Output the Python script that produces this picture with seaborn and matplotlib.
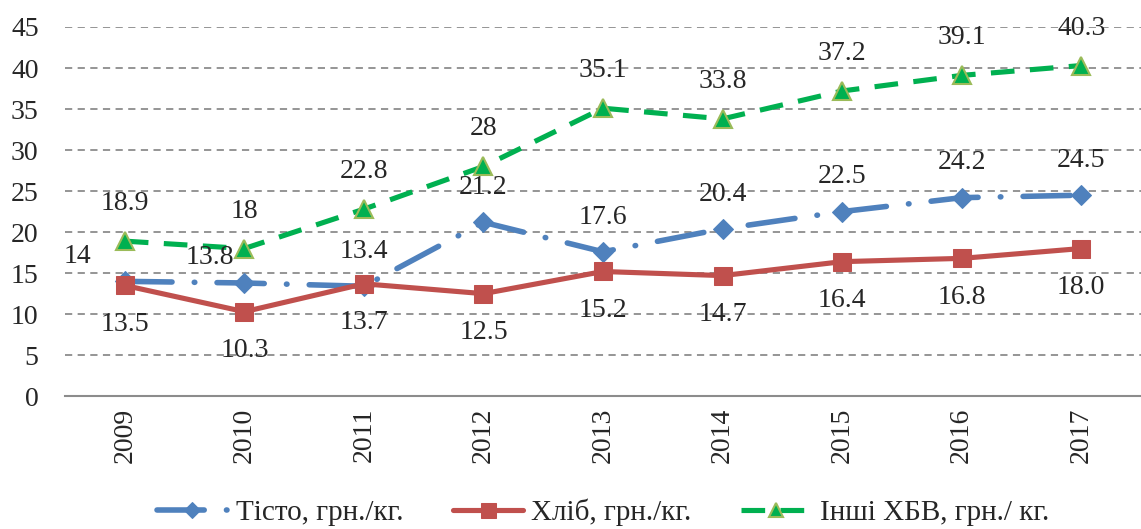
import matplotlib
matplotlib.use("Agg")
import matplotlib.pyplot as plt
import seaborn as sns

years = [2009, 2010, 2011, 2012, 2013, 2014, 2015, 2016, 2017]
tisto = [14, 13.8, 13.4, 21.2, 17.6, 20.4, 22.5, 24.2, 24.5]
khlib = [13.5, 10.3, 13.7, 12.5, 15.2, 14.7, 16.4, 16.8, 18.0]
inshi = [18.9, 18, 22.8, 28, 35.1, 33.8, 37.2, 39.1, 40.3]

tisto_lbl = ["14", "13.8", "13.4", "21.2", "17.6", "20.4", "22.5", "24.2", "24.5"]
khlib_lbl = ["13.5", "10.3", "13.7", "12.5", "15.2", "14.7", "16.4", "16.8", "18.0"]
inshi_lbl = ["18.9", "18", "22.8", "28", "35.1", "33.8", "37.2", "39.1", "40.3"]

names = ["Тісто, грн./кг.", "Хліб, грн./кг.", "Інші ХБВ, грн./ кг."]

sns.set_style("white")
plt.rcParams["font.family"] = ["Liberation Serif", "DejaVu Serif"]

fig = plt.figure(figsize=(11.41, 5.29), dpi=100)
ax = fig.add_axes([0.057, 0.251, 0.943, 0.698])

lw = 3.7
sns.lineplot(x=years, y=tisto, ax=ax, color="#4F81BD", lw=lw + 0.3, marker="D",
             markersize=10.5, markeredgecolor="#4F81BD", label=names[0])
ax.lines[-1].set_dashes((8.5, 4, 0.1, 4))
ax.lines[-1].set_dash_capstyle("round")
sns.lineplot(x=years, y=khlib, ax=ax, color="#C0504D", lw=lw, marker="s",
             markersize=13.5, markeredgecolor="#C0504D", label=names[1])
sns.lineplot(x=years, y=inshi, ax=ax, color="#00B050", lw=lw, marker="^",
             markersize=13, markeredgecolor="#9BBB59", markeredgewidth=1.5,
             label=names[2])
ax.lines[-1].set_dashes((4.6, 3))

fs = 20
for i, (x, y) in enumerate(zip(years, tisto)):
    if i == 0:
        off = (-34, 18)
    elif i == 1:
        off = (-25, 18)
    else:
        off = (0, 25)
    ax.annotate(tisto_lbl[i], (x, y), xytext=off, textcoords="offset points",
                ha="center", va="center", fontsize=fs)
for x, y, t in zip(years, khlib, khlib_lbl):
    ax.annotate(t, (x, y), xytext=(0, -28), textcoords="offset points",
                ha="center", va="center", fontsize=fs)
for x, y, t in zip(years, inshi, inshi_lbl):
    ax.annotate(t, (x, y), xytext=(0, 27), textcoords="offset points",
                ha="center", va="center", fontsize=fs)

ax.set_xlim(2008.5, 2017.5)
ax.set_ylim(0, 45)
ax.set_yticks(range(0, 46, 5))
ax.set_xticks(years)
ax.set_xticklabels([str(y) for y in years], rotation=90, fontsize=fs)
ax.tick_params(axis="y", labelsize=fs, length=0, pad=19)
ax.tick_params(axis="x", length=0, pad=8)
ax.yaxis.grid(True, color="#8C8C8C", linestyle=(0, (4, 3)), lw=1.3)
ax.xaxis.grid(False)
for s in ["top", "right", "left"]:
    ax.spines[s].set_visible(False)
ax.spines["bottom"].set_color("#8C8C8C")
ax.spines["bottom"].set_linewidth(1.5)

ax.legend(loc="center", bbox_to_anchor=(0.5, -0.314), ncol=3, frameon=False,
          fontsize=21, handlelength=2.4, columnspacing=1.7, handletextpad=0.3,
          borderpad=0, markerscale=0.8)

fig.savefig("out.png", dpi=100)
